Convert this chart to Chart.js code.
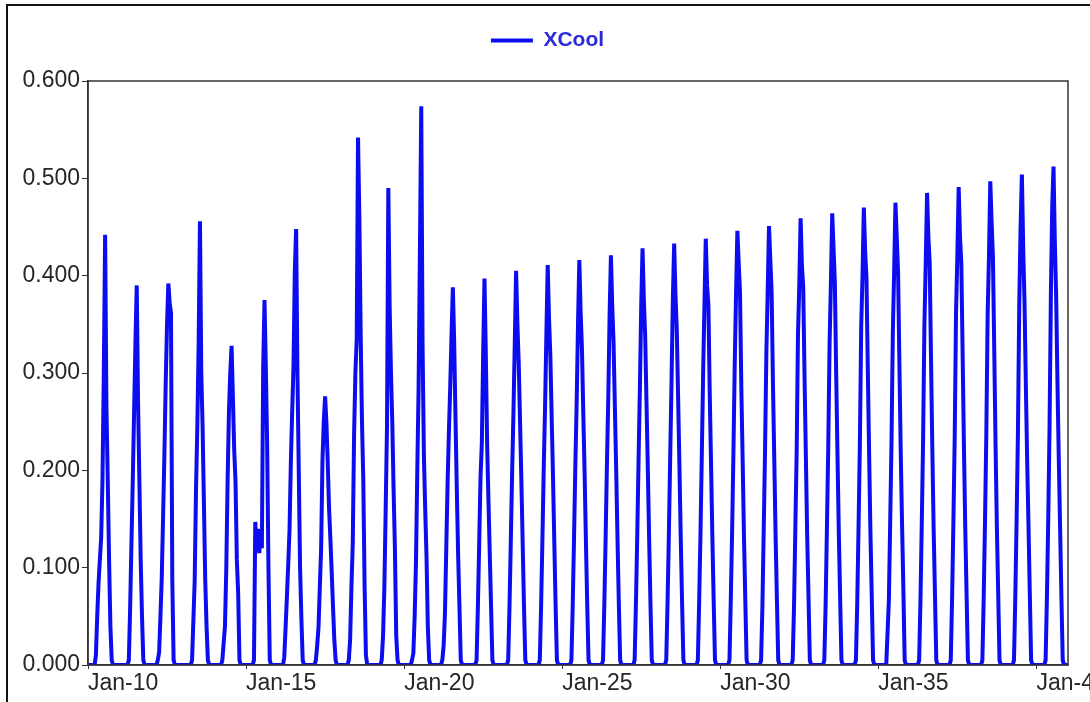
<!DOCTYPE html>
<html>
<head>
<meta charset="utf-8">
<script src="https://cdn.jsdelivr.net/npm/chart.js@4.4.0/dist/chart.umd.min.js"></script>
<style>
  html, body { margin: 0; padding: 0; background: #fff; overflow: hidden; }
  #wrap { position: relative; width: 1090px; height: 702px; }
  #frame {
    position: absolute; left: 6px; top: 4px; width: 1200px; height: 800px;
    border: 2px solid #111; pointer-events: none;
  }
</style>
</head>
<body>
<div id="wrap">
  <canvas id="chart" width="1090" height="702"></canvas>
  <div id="frame"></div>
</div>
<script>
// ---------------- data ----------------
// days of January shown on the axis
const days = [10, 11, 12, 13, 14, 15, 16, 17, 18, 19, 20, 21, 22, 23, 24, 25,
  26, 27, 28, 29, 30, 31, 32, 33, 34, 35, 36, 37, 38, 39, 40];

// hours of the day that carry a value (every other hour is 0)
const profileHours = [5, 6, 7, 8, 9, 10, 11, 12, 13, 14, 15, 16, 17, 18, 19, 20];

// XCool, one row per day, values for the hours above
const xcool = [
  [0, .010, .050, .084, .108, .131, .190, .300, .442, .265, .190, .108, .040, .005, 0, 0],    // Jan-10
  [0, 0, .005, .059, .126, .190, .260, .330, .390, .270, .190, .108, .050, .005, 0, 0],       // Jan-11
  [.005, .013, .050, .090, .152, .216, .290, .350, .392, .372, .362, .087, .005, 0, 0, 0],    // Jan-12
  [0, 0, .005, .046, .087, .180, .245, .330, .456, .300, .245, .166, .087, .040, .005, 0],    // Jan-13
  [0, .005, .023, .040, .100, .190, .260, .300, .328, .275, .221, .188, .108, .074, .005, 0], // Jan-14
  [0, .005, .147, .118, .140, .115, .135, .120, .306, .375, .306, .228, .100, .005, 0, 0],    // Jan-15
  [.008, .038, .070, .103, .139, .208, .260, .306, .404, .448, .300, .200, .100, .048, .005, 0], // Jan-16
  [.005, .020, .039, .080, .120, .210, .250, .276, .249, .208, .161, .130, .096, .060, .026, .005], // Jan-17
  [0, .005, .026, .080, .125, .236, .300, .334, .542, .460, .340, .250, .190, .080, .010, 0], // Jan-18
  [0, 0, .005, .030, .080, .160, .245, .490, .368, .300, .250, .180, .120, .030, .005, 0],    // Jan-19
  [0, .005, .012, .050, .106, .200, .286, .428, .574, .327, .216, .160, .111, .039, .005, 0], // Jan-20
  [.005, .020, .053, .120, .187, .240, .286, .340, .388, .331, .254, .180, .113, .060, .005, 0], // Jan-21
  [0, 0, .005, .060, .125, .193, .228, .320, .397, .320, .228, .170, .115, .060, .005, 0],    // Jan-22
  [0, 0, .005, .060, .128, .198, .260, .330, .405, .350, .310, .250, .190, .125, .060, .005], // Jan-23
  [0, 0, .005, .061, .130, .203, .265, .340, .411, .356, .318, .255, .195, .127, .061, .005], // Jan-24
  [0, 0, .005, .062, .131, .206, .270, .350, .416, .362, .325, .260, .198, .128, .062, .005], // Jan-25
  [0, 0, .005, .063, .132, .209, .275, .360, .421, .368, .331, .265, .200, .129, .063, .005], // Jan-26
  [0, 0, .005, .064, .134, .212, .285, .370, .428, .375, .338, .270, .202, .130, .064, .005], // Jan-27
  [0, 0, .005, .065, .135, .214, .290, .375, .433, .381, .344, .275, .205, .131, .065, .005], // Jan-28
  [0, 0, .005, .066, .136, .216, .300, .370, .438, .390, .370, .280, .207, .132, .066, .005], // Jan-29
  [0, 0, .005, .067, .137, .218, .310, .382, .446, .413, .382, .285, .210, .133, .067, .005], // Jan-30
  [0, 0, .005, .060, .139, .220, .320, .383, .451, .416, .383, .290, .212, .134, .068, .005], // Jan-31
  [0, 0, .005, .060, .140, .218, .339, .390, .459, .410, .388, .295, .214, .132, .070, .005], // Jan-32
  [0, 0, .005, .062, .142, .225, .330, .393, .464, .428, .393, .300, .216, .136, .070, .005], // Jan-33
  [0, 0, .005, .064, .143, .227, .347, .400, .470, .425, .398, .305, .218, .137, .071, .005], // Jan-34
  [0, 0, .033, .066, .146, .228, .340, .403, .475, .439, .403, .310, .220, .146, .079, .005], // Jan-35
  [0, 0, .005, .067, .146, .232, .350, .413, .485, .440, .413, .315, .222, .140, .073, .005], // Jan-36
  [0, 0, .005, .068, .147, .235, .362, .420, .491, .440, .413, .320, .224, .141, .073, .005], // Jan-37
  [0, 0, .005, .069, .148, .238, .360, .420, .497, .455, .420, .325, .226, .142, .074, .005], // Jan-38
  [0, 0, .005, .070, .150, .240, .370, .450, .504, .428, .372, .288, .210, .144, .074, .005], // Jan-39
  [0, 0, .005, .069, .149, .245, .380, .470, .512, .435, .380, .290, .212, .141, .070, .005]  // Jan-40
];

// axis ticks
const xTicks = [10, 15, 20, 25, 30, 35, 40];
const xTickLabels = ['Jan-10', 'Jan-15', 'Jan-20', 'Jan-25', 'Jan-30', 'Jan-35', 'Jan-40'];
const yTicks = [0, 0.1, 0.2, 0.3, 0.4, 0.5, 0.6];

// ---------------- hourly series ----------------
const points = [];
days.forEach((d, i) => {
  for (let h = 0; h < 24; h++) {
    const k = profileHours.indexOf(h);
    points.push({ x: d + h / 24, y: k >= 0 ? xcool[i][k] : 0 });
  }
});
points.push({ x: 41, y: 0 });

// ---------------- helpers ----------------
const FONT = "'Liberation Sans', Arial, sans-serif";
const AXIS = '#333333';

// frame round the plot area
const plotFrame = {
  id: 'plotFrame',
  afterDatasetsDraw(chart) {
    const { ctx, chartArea: a } = chart;
    ctx.save();
    ctx.strokeStyle = AXIS;
    ctx.lineWidth = 1.5;
    ctx.strokeRect(a.left, a.top, a.right - a.left, a.bottom - a.top);
    ctx.restore();
  }
};

// extra room under the legend, and legend centred a bit to the right
const legendGap = {
  id: 'legendGap',
  beforeInit(chart) {
    const fit = chart.legend.fit;
    chart.legend.fit = function () {
      fit.bind(chart.legend)();
      this.height += 20;
    };
  },
  afterLayout(chart) {
    chart.legend.left += 27;
  }
};

new Chart(document.getElementById('chart'), {
  type: 'line',
  data: {
    datasets: [{
      label: 'XCool',
      data: points,
      borderColor: '#0c0cf0',
      backgroundColor: '#0c0cf0',
      borderWidth: 4,
      pointRadius: 0,
      tension: 0,
      fill: false
    }]
  },
  options: {
    responsive: false,
    animation: false,
    layout: { padding: { left: 0, top: 20, right: 22, bottom: 0 } },
    plugins: {
      legend: {
        position: 'top',
        labels: {
          usePointStyle: true,
          pointStyle: 'line',
          pointStyleWidth: 42,
          padding: 10,
          color: '#2a2ad8',
          font: { family: FONT, size: 21, weight: 'bold' }
        }
      },
      tooltip: { enabled: false }
    },
    scales: {
      x: {
        type: 'linear',
        min: 10,
        max: 41,
        afterBuildTicks: s => { s.ticks = xTicks.map(v => ({ value: v })); },
        afterFit: s => { s.height = 37; s.paddingLeft = 0; s.paddingRight = 0; },
        grid: { display: true, drawOnChartArea: false, drawTicks: true, tickLength: 4, color: AXIS },
        border: { display: true, color: AXIS, width: 1.5 },
        ticks: {
          align: 'start',
          maxRotation: 0,
          autoSkip: false,
          padding: 1,
          color: '#262626',
          font: { family: FONT, size: 23 },
          callback: v => xTickLabels[xTicks.indexOf(v)]
        }
      },
      y: {
        min: 0,
        max: 0.6,
        afterBuildTicks: s => { s.ticks = yTicks.map(v => ({ value: v })); },
        afterFit: s => { s.width = 88; },
        grid: { display: true, drawOnChartArea: false, drawTicks: true, tickLength: 6, color: AXIS },
        border: { display: true, color: AXIS, width: 1.5 },
        ticks: {
          padding: 2,
          color: '#262626',
          font: { family: FONT, size: 23 },
          callback: v => v.toFixed(3)
        }
      }
    }
  },
  plugins: [plotFrame, legendGap]
});
</script>
</body>
</html>
